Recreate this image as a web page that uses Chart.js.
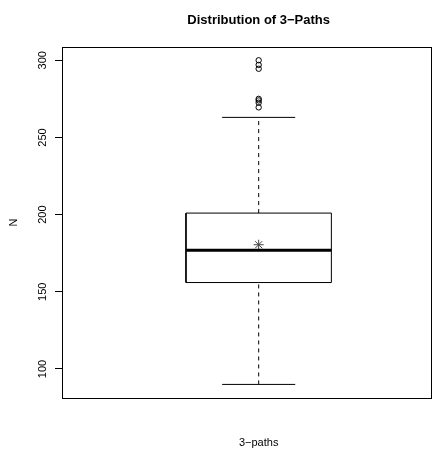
<!DOCTYPE html>
<html>
<head>
<meta charset="utf-8">
<script src="https://cdn.jsdelivr.net/npm/chart.js@4"></script>
<style>
  html, body { margin: 0; padding: 0; background: #fff; }
  #wrap { width: 445px; height: 450px; }
</style>
</head>
<body>
<div id="wrap"><canvas id="boxChart"></canvas></div>
<script>
// Box summary for "3-paths"
const categories = ['3-paths'];
const quartiles = [156, 177, 201];     // Q1, median, Q3
const whiskers = [90, 263];            // lower, upper
const meanValue = [180.5];
const outliers = [300, 297, 294.5, 275, 274, 272.5, 269.5];
const yTicks = [100, 150, 200, 250, 300];

const TITLE = 'Distribution of 3\u2212Paths';
const X_LABEL = categories[0].replace('-', '\u2212');

// where the box sits across the plot (0..1 of the x range)
const BOX = { center: 0.533, half: 0.197, cap: 0.099 };
const FONT = "'Liberation Sans', Helvetica, Arial, sans-serif";
const INK = '#000';

const [q1, med, q3] = quartiles;
const [lo, hi] = whiskers;
const L = BOX.center - BOX.half, R = BOX.center + BOX.half;
const C = BOX.center;

function seg(points, extra) {
  return Object.assign({
    data: points,
    showLine: true,
    borderColor: INK,
    borderWidth: 1,
    pointRadius: 0,
    fill: false,
    xAxisID: 'x',
    yAxisID: 'y'
  }, extra || {});
}

// plot frame + main title and x label, centred over the box column
const framePlugin = {
  id: 'frame',
  afterDraw(chart) {
    const { ctx, chartArea: a } = chart;
    const cx = chart.scales.x.getPixelForValue(C);
    ctx.save();
    ctx.strokeStyle = INK;
    ctx.lineWidth = 1;
    ctx.strokeRect(Math.round(a.left) + 0.5, Math.round(a.top) + 0.5,
      Math.round(a.right - a.left), Math.round(a.bottom - a.top));
    ctx.fillStyle = INK;
    ctx.textAlign = 'center';
    ctx.textBaseline = 'middle';
    ctx.font = 'bold 13px ' + FONT;
    ctx.fillText(TITLE, cx, 20.5);
    ctx.font = '11px ' + FONT;
    ctx.fillText(X_LABEL, cx, 443);
    ctx.restore();
  }
};

new Chart(document.getElementById('boxChart'), {
  type: 'scatter',
  data: {
    labels: categories,
    datasets: [
      seg([{ x: L, y: q1 }, { x: R, y: q1 }, { x: R, y: q3 }, { x: L, y: q3 }, { x: L, y: q1 }]),
      seg([{ x: L, y: med }, { x: R, y: med }], { borderWidth: 3 }),
      seg([{ x: C, y: q3 }, { x: C, y: hi }], { borderDash: [4, 4] }),
      seg([{ x: C, y: lo }, { x: C, y: q1 }], { borderDash: [4, 4] }),
      seg([{ x: C - BOX.cap, y: hi }, { x: C + BOX.cap, y: hi }]),
      seg([{ x: C - BOX.cap, y: lo }, { x: C + BOX.cap, y: lo }]),
      {
        data: outliers.map(v => ({ x: C, y: v })),
        showLine: false,
        pointStyle: 'circle',
        pointRadius: 2.7,
        pointBorderWidth: 1,
        pointBorderColor: INK,
        pointBackgroundColor: 'rgba(0,0,0,0)',
        xAxisID: 'x',
        yAxisID: 'y'
      },
      {
        data: meanValue.map(v => ({ x: C, y: v })),
        showLine: false,
        pointStyle: 'star',
        pointRadius: 5,
        pointBorderWidth: 1,
        pointBorderColor: '#444',
        xAxisID: 'x',
        yAxisID: 'y'
      }
    ]
  },
  options: {
    responsive: true,
    maintainAspectRatio: false,
    animation: false,
    layout: { padding: { left: 0, right: 14, top: 47, bottom: 52 } },
    plugins: {
      legend: { display: false },
      tooltip: { enabled: false },
      title: { display: false }
    },
    scales: {
      x: {
        type: 'linear',
        position: 'bottom',
        min: 0,
        max: 1,
        display: true,
        grid: { display: false },
        border: { display: false },
        ticks: { display: false },
        afterFit(scale) { scale.height = 0; }
      },
      y: {
        type: 'linear',
        position: 'left',
        min: 81.2,
        max: 308.6,
        afterBuildTicks(scale) {
          scale.ticks = yTicks.map(v => ({ value: v }));
        },
        grid: {
          drawOnChartArea: false,
          drawTicks: true,
          tickLength: 7,
          color: INK
        },
        border: { display: false },
        ticks: {
          color: INK,
          font: { family: FONT, size: 11 },
          minRotation: 90,
          maxRotation: 90,
          crossAlign: 'center',
          padding: 3
        },
        title: {
          display: true,
          text: 'N',
          color: INK,
          font: { family: FONT, size: 11 },
          padding: { top: 7, bottom: 0 }
        },
        afterFit(scale) { scale.width = 62; }
      }
    }
  },
  plugins: [framePlugin]
});
</script>
</body>
</html>
